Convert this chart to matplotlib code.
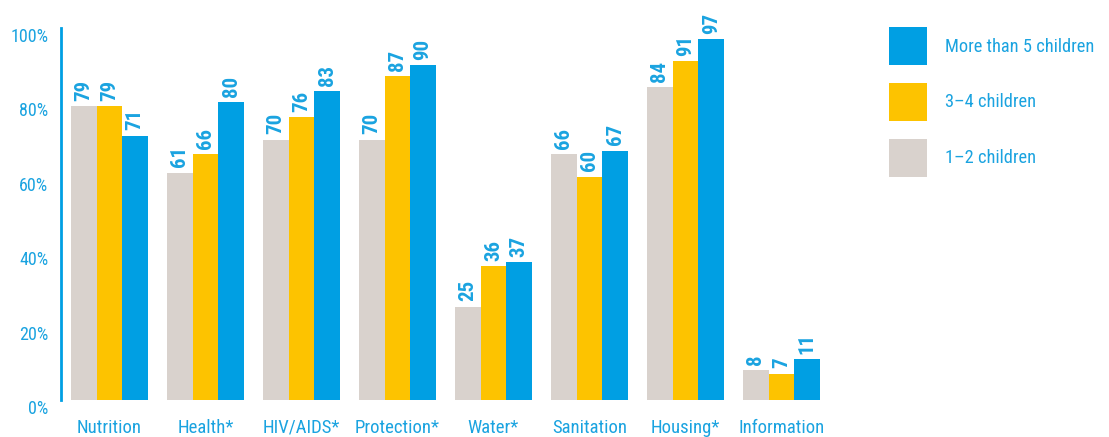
import numpy as np
import matplotlib
matplotlib.use("Agg")
import matplotlib.pyplot as plt
from matplotlib.transforms import ScaledTranslation

plt.rcParams['font.family'] = ['Roboto Condensed', 'DejaVu Sans']
plt.rcParams['font.stretch'] = 'condensed'

categories = ["Nutrition", "Health*", "HIV/AIDS*", "Protection*", "Water*",
              "Sanitation", "Housing*", "Information"]
one_two = [79, 61, 70, 70, 25, 66, 84, 8]
three_four = [79, 66, 76, 87, 36, 60, 91, 7]
more_five = [71, 80, 83, 90, 37, 67, 97, 11]
series_names = ["1\u20132 children", "3\u20134 children", "More than 5 children"]
y_ticks = [0, 20, 40, 60, 80, 100]

BLUE = "#009FE3"
TEXT = "#1AA3E0"
colors = ["#D9D2CD", "#FDC300", BLUE]

fig = plt.figure(figsize=(11.09, 4.37), dpi=100)
ax = fig.add_axes([0.055, 0.0847, 0.693, 0.8513])

x = np.arange(len(categories))
w = 0.267
bars = []
for i, (vals, c, name) in enumerate(zip([one_two, three_four, more_five], colors, series_names)):
    b = ax.bar(x + (i - 1) * w, vals, w, color=c, label=name)
    bars.append(b)
    for rect, v in zip(b, vals):
        ax.annotate(str(v), (rect.get_x() + rect.get_width() / 2, v),
                    xytext=(0, 4), textcoords="offset points",
                    rotation=90, ha="center", va="bottom",
                    fontsize=15, fontweight="bold", color=TEXT)

ax.set_xlim(-0.504, 7.5)
ax.set_ylim(0, 100)
ax.set_yticks(y_ticks)
ax.set_yticklabels([f"{t}%" for t in y_ticks])
ax.set_xticks(x)
ax.set_xticklabels(categories)
ax.tick_params(axis="y", length=0, pad=9, labelsize=13, labelcolor=TEXT)
ax.tick_params(axis="x", length=0, pad=13.5, labelsize=13.5, labelcolor=TEXT)
for lab in ax.get_yticklabels():
    lab.set_transform(lab.get_transform() + ScaledTranslation(0, -0.07, fig.dpi_scale_trans))

for s in ["top", "right", "bottom"]:
    ax.spines[s].set_visible(False)
ax.spines["left"].set_color(BLUE)
ax.spines["left"].set_linewidth(2)

leg = fig.legend(handles=bars[::-1], labels=series_names[::-1],
                 loc="upper left", bbox_to_anchor=(0.8016, 0.938),
                 frameon=False, fontsize=13.2, handlelength=2.07, handleheight=2.81,
                 labelspacing=0.98, handletextpad=1.0, borderpad=0, borderaxespad=0)
for t in leg.get_texts():
    t.set_color(TEXT)

fig.savefig("out.png", dpi=100)
